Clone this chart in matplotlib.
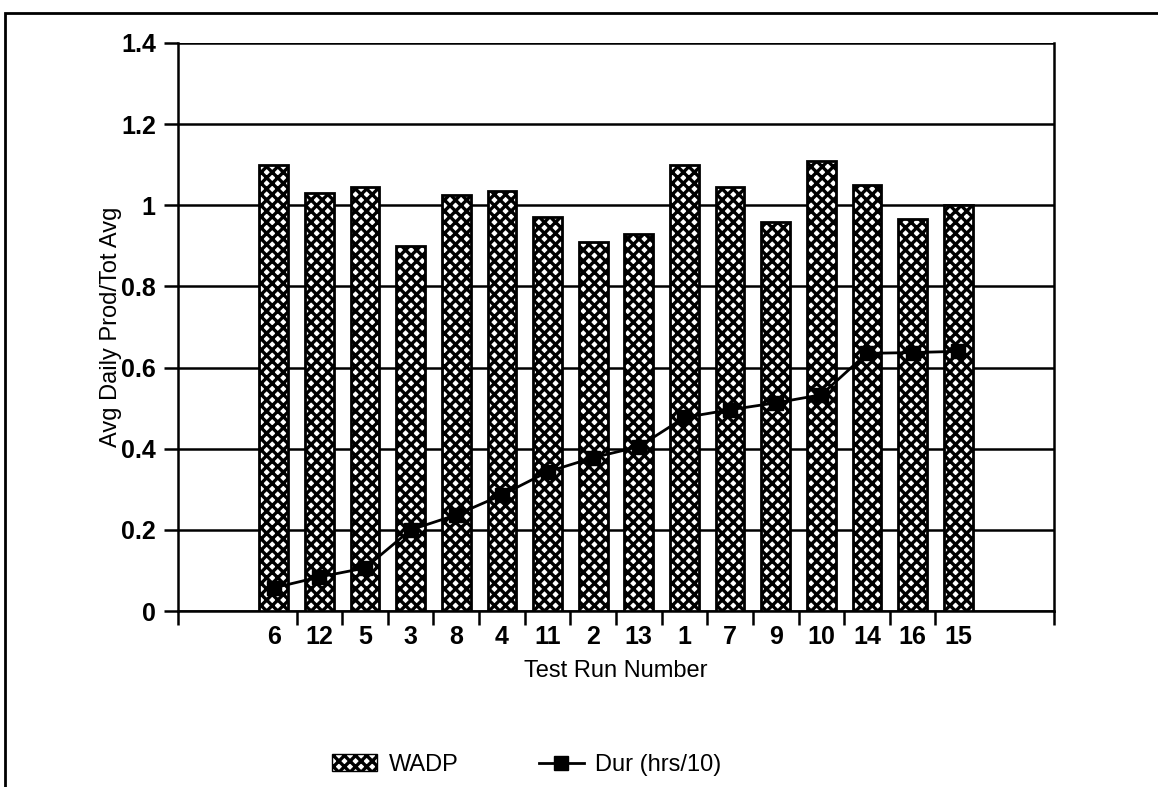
import numpy as np
import matplotlib
matplotlib.use("Agg")
import matplotlib.pyplot as plt
from matplotlib.lines import Line2D

plt.rcParams['font.family'] = ['Liberation Sans', 'DejaVu Sans']
plt.rcParams['hatch.linewidth'] = 2.4

# data
runs = ['6', '12', '5', '3', '8', '4', '11', '2', '13', '1', '7', '9', '10', '14', '16', '15']
wadp = [1.10, 1.03, 1.045, 0.90, 1.025, 1.035, 0.97, 0.91, 0.93, 1.10, 1.045, 0.96, 1.11, 1.05, 0.965, 1.00]
dur = [0.057, 0.084, 0.106, 0.20, 0.237, 0.286, 0.343, 0.378, 0.405, 0.477, 0.496, 0.513, 0.533, 0.635, 0.637, 0.640]
yticks = [0, 0.2, 0.4, 0.6, 0.8, 1, 1.2, 1.4]
ylabels = ['0', '0.2', '0.4', '0.6', '0.8', '1', '1.2', '1.4']

fig = plt.figure(figsize=(11.58, 7.87), dpi=100)
ax = fig.add_axes([0.1537, 0.2236, 0.7565, 0.7218])

x = np.arange(len(runs))
ax.bar(x, wadp, width=0.63, facecolor='white', edgecolor='black', hatch='xxx',
       linewidth=2, zorder=3)
ax.plot(x, dur, color='black', lw=2, marker='s', markersize=10, zorder=4)

ax.set_xlim(-2.1, 17.1)
ax.set_ylim(0, 1.4)

# gridlines
ax.set_yticks(yticks)
ax.set_yticklabels(ylabels, fontsize=18, fontweight='bold')
ax.yaxis.grid(True, color='black', lw=1.8, zorder=1)
ax.tick_params(axis='y', direction='out', length=10, width=1.8, pad=6)

# category boundaries as tick marks, labels at centres
ax.set_xticks(list(np.arange(len(runs) - 1) + 0.5) + [-2.1, 17.1])
ax.set_xticklabels([])
ax.set_xticks(x, minor=True)
ax.set_xticklabels(runs, minor=True, fontsize=18, fontweight='bold')
ax.tick_params(axis='x', which='major', direction='out', length=10, width=1.8)
ax.tick_params(axis='x', which='minor', length=0, pad=10)

for s in ax.spines.values():
    s.set_linewidth(1.8)
ax.spines['top'].set_visible(False)

ax.set_xlabel('Test Run Number', fontsize=17, labelpad=8)
ax.set_ylabel('Avg Daily Prod/Tot Avg', fontsize=17)
ax.yaxis.set_label_coords(-0.064, 0.5)

handles = [plt.Rectangle((0, 0), 1, 1, facecolor='white', edgecolor='black', hatch='xxx'),
           Line2D([], [], color='black', lw=2, marker='s', markersize=10)]
fig.legend(handles, ['WADP', 'Dur (hrs/10)'], loc='center', bbox_to_anchor=(0.455, 0.028),
           ncol=2, frameon=False, fontsize=17, columnspacing=3.4, handlelength=1.9,
           handletextpad=0.5)

# outer frame
fig.add_artist(plt.Rectangle((0.004, -0.05), 1.1, 1.034, transform=fig.transFigure,
                             fill=False, edgecolor='black', lw=2))

fig.savefig('out.png', dpi=100)
